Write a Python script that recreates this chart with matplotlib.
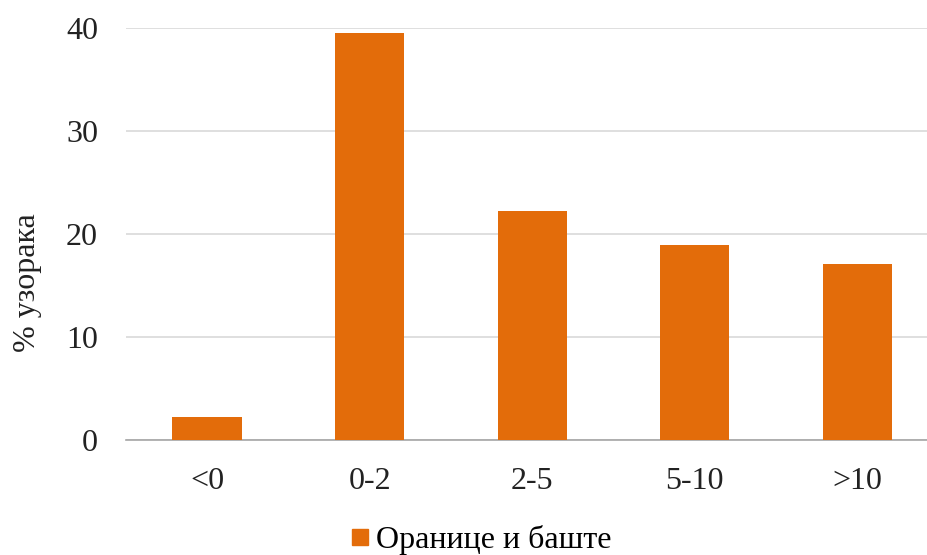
import matplotlib
matplotlib.use("Agg")
import matplotlib.pyplot as plt
from matplotlib.lines import Line2D

categories = ["<0", "0-2", "2-5", "5-10", ">10"]
values = [2.2, 39.45, 22.2, 18.9, 17.1]
series_name = "Оранице и баште"
y_label = "% узорака"
y_ticks = [0, 10, 20, 30, 40]

plt.rcParams['font.family'] = ['Liberation Serif', 'DejaVu Serif']

fig = plt.figure(figsize=(9.28, 5.55), dpi=100)
ax = fig.add_axes([0.1355, 0.2078, 0.8645, 0.7422])

color = "#E36C0A"
x = list(range(len(categories)))
ax.bar(x, values, width=0.425, color=color, zorder=3)

ax.set_ylim(0, 40)
ax.set_xlim(-0.5, 4.435)
ax.set_yticks(y_ticks)
ax.set_xticks(x)
ax.set_xticklabels(categories)
ax.tick_params(axis='both', length=0, labelsize=23, colors="#222222")
ax.tick_params(axis='y', pad=20)
ax.tick_params(axis='x', pad=20)
ax.yaxis.grid(True, color="#D9D9D9", linewidth=1.2, zorder=0)
for s in ["top", "right", "left"]:
    ax.spines[s].set_visible(False)
ax.spines["bottom"].set_color("#A6A6A6")
ax.spines["bottom"].set_linewidth(1.2)

fig.text(28 / 928, 1 - 283 / 555, y_label, rotation=90, fontsize=23,
         color="#222222", ha='center', va='center')

handle = Line2D([], [], marker='s', linestyle='none', markersize=11, color=color)
fig.legend([handle], [series_name], loc='center', bbox_to_anchor=(0.517, 0.027),
           frameon=False, fontsize=23, handletextpad=0.1, borderpad=0, handlelength=0.8)

fig.savefig("out.png", dpi=100)
